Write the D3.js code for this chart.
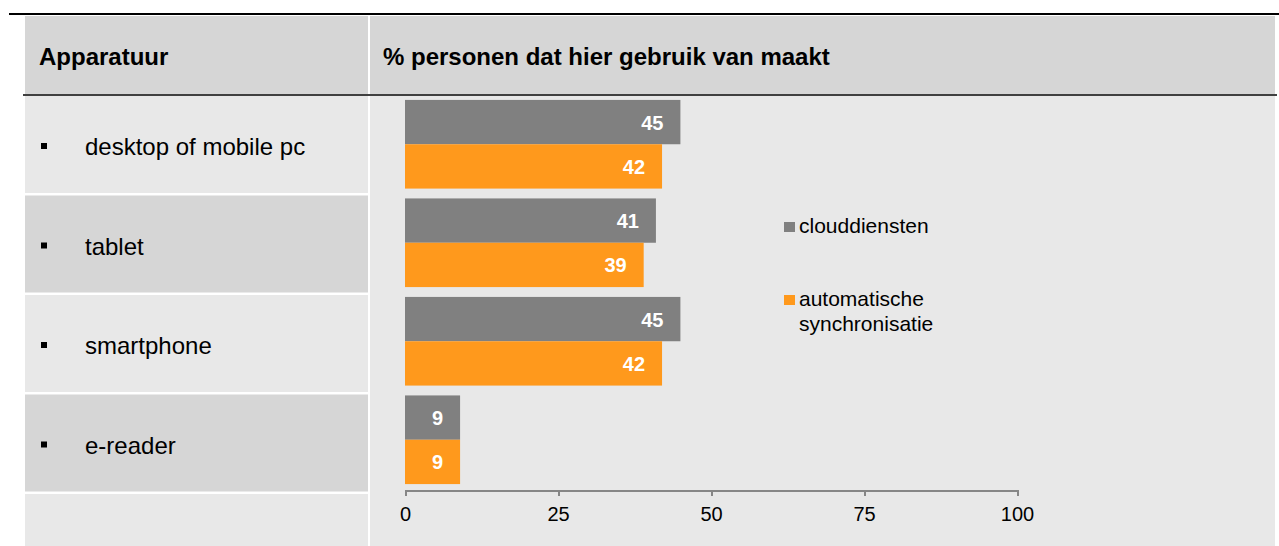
<!DOCTYPE html>
<html>
<head>
  <meta charset="utf-8">
  <script src="https://cdnjs.cloudflare.com/ajax/libs/d3/7.8.5/d3.min.js"></script>
  <style>
    body { margin: 0; background: #fff; font-family: Arial, "Liberation Sans", sans-serif; }
    .axis path, .axis line { stroke: #868686; stroke-width: 2; shape-rendering: crispEdges; }
    .axis text { font-size: 20px; fill: #000; }
  </style>
</head>
<body>
<div id="chart"></div>
<script>
// data
var categories = ["desktop of mobile pc", "tablet", "smartphone", "e-reader"];
var seriesNames = ["clouddiensten", "automatische synchronisatie"];
var cloud = [45, 41, 45, 9];
var autoSync = [42, 39, 42, 9];
var tickValues = [0, 25, 50, 75, 100];
var headerLeft = "Apparatuur";
var headerRight = "% personen dat hier gebruik van maakt";

var colors = ["#808080", "#ff991c"];
var W = 1279, H = 546;

var svg = d3.select("#chart").append("svg")
  .attr("width", W).attr("height", H);

// table background
svg.append("rect").attr("x", 25).attr("y", 16).attr("width", 343).attr("height", 78).attr("fill", "#d6d6d6");
svg.append("rect").attr("x", 370).attr("y", 16).attr("width", 905).attr("height", 78).attr("fill", "#d6d6d6");
svg.append("rect").attr("x", 370).attr("y", 96).attr("width", 905).attr("height", 450).attr("fill", "#e8e8e8");

var rows = categories.concat([""]);
svg.selectAll(".rowbg").data(rows).enter().append("rect")
  .attr("class", "rowbg")
  .attr("x", 25)
  .attr("y", function(d, i) { return 96 + i * 99.5; })
  .attr("width", 343)
  .attr("height", 97)
  .attr("fill", function(d, i) { return i % 2 ? "#d6d6d6" : "#e8e8e8"; });

// rules
svg.append("line").attr("x1", 9).attr("x2", W).attr("y1", 14).attr("y2", 14)
  .attr("stroke", "#000").attr("stroke-width", 2);
svg.append("line").attr("x1", 23).attr("x2", 1277).attr("y1", 95).attr("y2", 95)
  .attr("stroke", "#000").attr("stroke-width", 1.6);

// headers
svg.append("text").attr("x", 39).attr("y", 65).attr("font-size", "24px").attr("font-weight", "bold")
  .text(headerLeft);
svg.append("text").attr("x", 383).attr("y", 65).attr("font-size", "24px").attr("font-weight", "bold")
  .text(headerRight);

// row labels
var lab = svg.selectAll(".rowlab").data(categories).enter().append("g")
  .attr("class", "rowlab")
  .attr("transform", function(d, i) { return "translate(0," + (96 + i * 99.5) + ")"; });
lab.append("rect").attr("x", 41).attr("y", 47).attr("width", 6).attr("height", 6).attr("fill", "#000");
lab.append("text").attr("x", 85).attr("y", 59).attr("font-size", "24px").text(function(d) { return d; });

// scales
var x = d3.scaleLinear().domain([0, 100]).range([405, 1017]);
var y = d3.scaleBand().domain(categories).range([95, 489]).paddingInner(0.1).paddingOuter(0.05);
var ys = d3.scaleBand().domain(seriesNames).range([0, y.bandwidth()]);

var data = [];
categories.forEach(function(c, i) {
  data.push({ cat: c, s: seriesNames[0], v: cloud[i], k: 0 });
  data.push({ cat: c, s: seriesNames[1], v: autoSync[i], k: 1 });
});

svg.selectAll(".bar").data(data).enter().append("rect")
  .attr("class", "bar")
  .attr("x", x(0))
  .attr("y", function(d) { return y(d.cat) + ys(d.s); })
  .attr("width", function(d) { return x(d.v) - x(0); })
  .attr("height", ys.bandwidth())
  .attr("fill", function(d) { return colors[d.k]; });

svg.selectAll(".val").data(data).enter().append("text")
  .attr("class", "val")
  .attr("x", function(d) { return x(d.v) - 17; })
  .attr("y", function(d) { return y(d.cat) + ys(d.s) + ys.bandwidth() / 2 + 7.5; })
  .attr("text-anchor", "end")
  .attr("font-size", "20px").attr("font-weight", "bold").attr("fill", "#fff")
  .text(function(d) { return d.v; });

// axis
svg.append("g").attr("class", "axis")
  .attr("transform", "translate(0,490)")
  .call(d3.axisBottom(x).tickValues(tickValues).tickSize(6).tickSizeOuter(6).tickPadding(11))
  .call(function(g) { g.select(".domain").attr("fill", "none"); });

// legend
var lg = svg.append("g").attr("transform", "translate(784,0)");
lg.append("rect").attr("x", 0).attr("y", 222).attr("width", 11).attr("height", 10).attr("fill", colors[0]);
lg.append("text").attr("x", 15).attr("y", 233).attr("font-size", "21px").text(seriesNames[0]);
lg.append("rect").attr("x", 0).attr("y", 295).attr("width", 11).attr("height", 10).attr("fill", colors[1]);
lg.append("text").attr("x", 15).attr("y", 306).attr("font-size", "21px").text("automatische");
lg.append("text").attr("x", 15).attr("y", 331).attr("font-size", "21px").text("synchronisatie");
</script>
</body>
</html>
